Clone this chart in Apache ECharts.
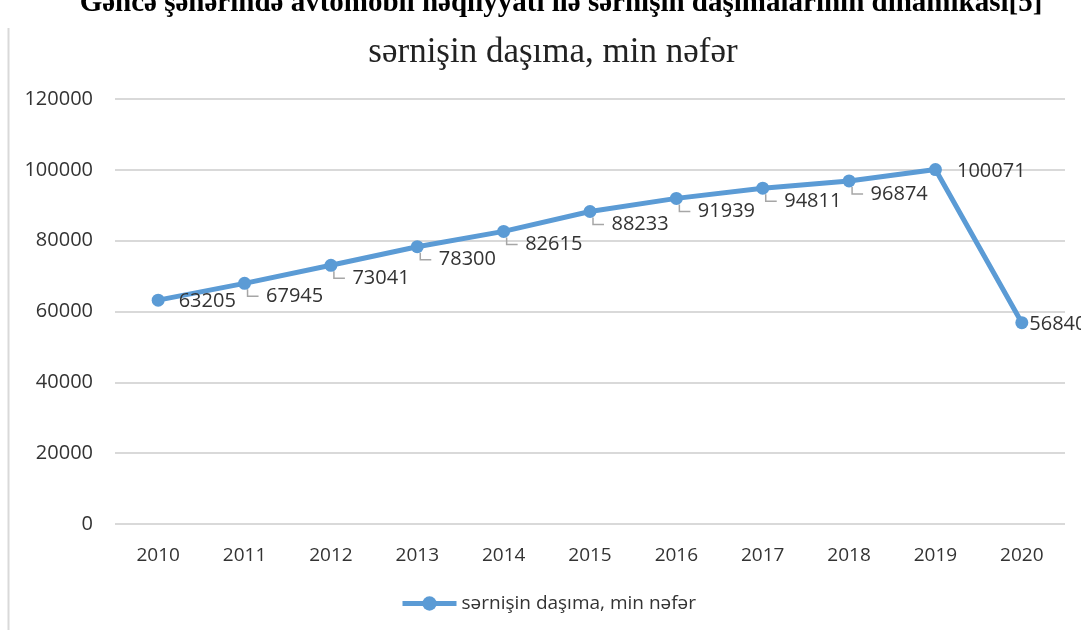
<!DOCTYPE html>
<html><head><meta charset="utf-8">
<script src="https://cdn.jsdelivr.net/npm/echarts@6/dist/echarts.min.js"></script>
<style>html,body{margin:0;padding:0;background:#fff}#c{width:1081px;height:630px}</style>
</head><body><div id="c"></div>
<script>
const years = ['2010','2011','2012','2013','2014','2015','2016','2017','2018','2019','2020'];
const passengers = [63205, 67945, 73041, 78300, 82615, 88233, 91939, 94811, 96874, 100071, 56840];
const seriesName = 'sərnişin daşıma, min nəfər';
const topTitle = 'Gəncə şəhərində avtomobil nəqliyyatı ilə sərnişin daşımalarının dinamikası[5]';
const yTicks = [0, 20000, 40000, 60000, 80000, 100000, 120000];

const chart = echarts.init(document.getElementById('c'), null, {renderer: 'canvas'});
const font = '"Open Sans", sans-serif';
const last = passengers.length - 1;
const leaderData = passengers.map((v, i) => [i, v]);

chart.setOption({
  animation: false,
  backgroundColor: '#fff',
  title: [{
    text: topTitle, left: 556, textAlign: 'center', top: -16,
    textStyle: {fontFamily: '"Liberation Serif", serif', fontWeight: 'bold', fontSize: 29, color: '#000'}
  }, {
    text: seriesName, left: 548, textAlign: 'center', top: 30,
    textStyle: {fontFamily: '"Liberation Serif", serif', fontWeight: 'normal', fontSize: 35, color: '#222'}
  }],
  graphic: [{
    type: 'line', shape: {x1: 8.5, y1: 28, x2: 8.5, y2: 630},
    style: {stroke: '#d9d9d9', lineWidth: 2}
  }],
  legend: {
    bottom: 12, left: 395, itemWidth: 54, itemHeight: 18, itemGap: 4,
    textStyle: {fontFamily: font, fontSize: 19, color: '#333'},
    lineStyle: {width: 5},
    data: [seriesName]
  },
  grid: {left: 115, right: 16, top: 99, bottom: 106, containLabel: false},
  xAxis: {
    type: 'category', data: years, boundaryGap: true,
    axisLine: {show: false}, axisTick: {show: false},
    axisLabel: {fontFamily: font, fontSize: 19, color: '#333', margin: 22}
  },
  yAxis: {
    type: 'value', min: yTicks[0], max: yTicks[yTicks.length - 1], interval: 20000,
    axisLine: {show: false}, axisTick: {show: false},
    axisLabel: {fontFamily: font, fontSize: 20, color: '#333', margin: 22, formatter: v => String(v)},
    splitLine: {lineStyle: {color: '#d9d9d9', width: 2}}
  },
  series: [{
    type: 'custom', z: 1, silent: true,
    data: leaderData,
    renderItem: function (params, api) {
      const i = api.value(0);
      if (i === 0 || i >= last - 1) return null;
      const p = api.coord([i, api.value(1)]);
      return {
        type: 'polyline',
        shape: {points: [[p[0] + 3, p[1] + 6], [p[0] + 3, p[1] + 13], [p[0] + 14, p[1] + 13]]},
        style: {stroke: '#a6a6a6', lineWidth: 1.5, fill: null}
      };
    }
  }, {
    name: seriesName, type: 'line', data: passengers, z: 3,
    symbol: 'circle', symbolSize: 13,
    lineStyle: {color: '#5b9bd5', width: 5},
    itemStyle: {color: '#5b9bd5'},
    label: {show: true, position: 'right', distance: 4, fontFamily: font, fontSize: 20, color: '#333'},
    labelLayout: function (p) {
      const i = p.dataIndex;
      if (i === 0) return {dx: 10, dy: 1};
      if (i === last - 1) return {dx: 11, dy: 2};
      if (i === last) return {dx: -3, dy: 2};
      return {dx: 11, dy: 13};
    }
  }]
});
</script></body></html>
